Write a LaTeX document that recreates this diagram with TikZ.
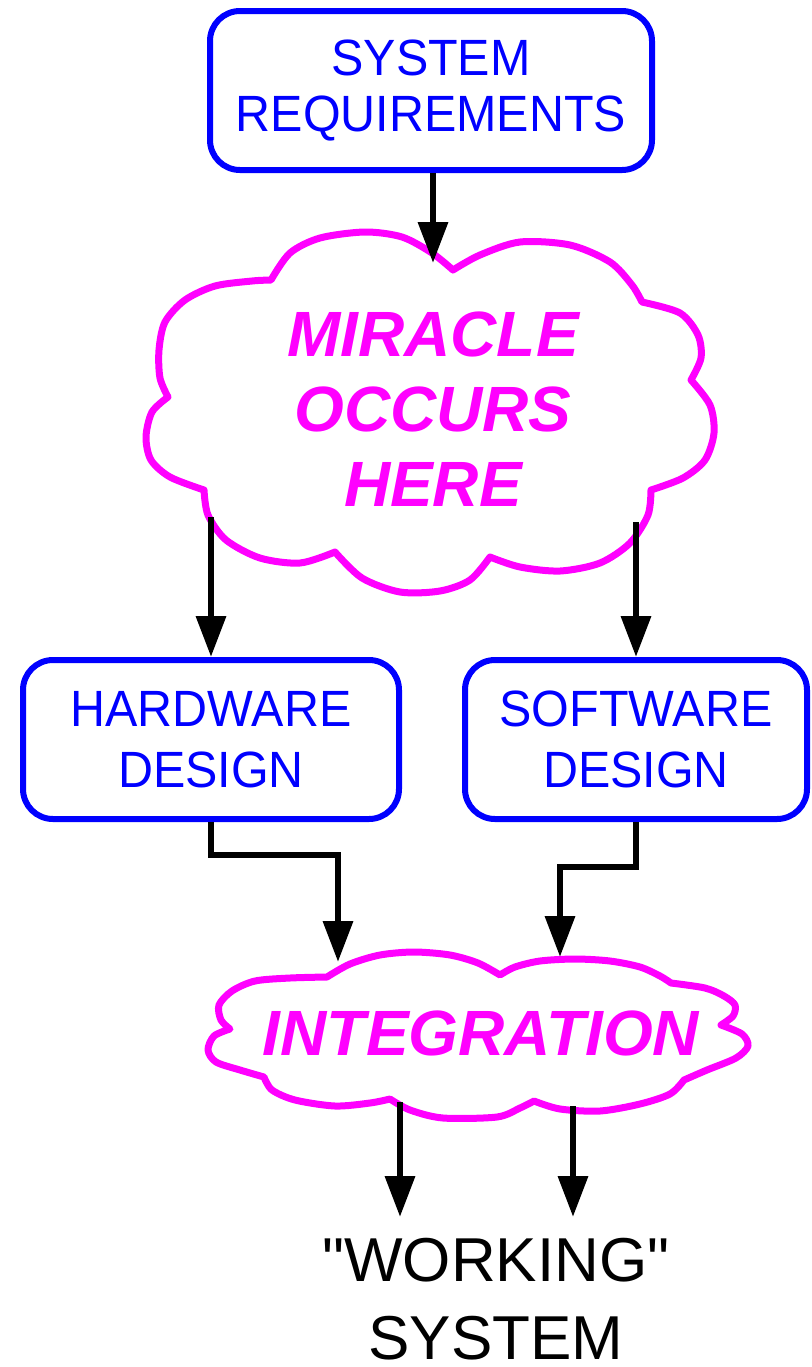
\documentclass[tikz,border=0pt]{standalone}
\usepackage{fontspec}
\setmainfont{Liberation Sans}
% same family without TeX ligature mapping, so " stays a straight quote
\newfontfamily\plainsans{Liberation Sans}
\usetikzlibrary{arrows.meta}
\definecolor{boxblue}{RGB}{0,0,255}
\definecolor{cloudmag}{RGB}{255,0,255}
\newcommand\narrowtxt[1]{\scalebox{0.95}[1]{#1}}
\tikzset{
  bluebox/.style={draw=boxblue, line width=3pt, rounded corners=15pt, text=boxblue,
    align=center, inner sep=0pt},
  cloudline/.style={draw=cloudmag, line width=3.5pt, line join=round, line cap=round},
  cloudtext/.style={text=cloudmag, font=\fontsize{32}{37.5}\bfseries\itshape\selectfont,
    align=center, inner sep=0pt},
  flow/.style={draw=black, line width=3.25pt, -{Triangle[length=20.5pt,width=14.5pt]}},
}
\begin{document}
\begin{tikzpicture}[x=0.5pt,y=-0.5pt]
\useasboundingbox (0,0) rectangle (811,1367);

% requirements box
\node[bluebox, minimum width=221pt, minimum height=79.5pt,
      font=\fontsize{25.5}{28}\selectfont] (req) at (431,90.5)
  {\narrowtxt{SYSTEM}\\\narrowtxt{REQUIREMENTS}};

% large cloud
\draw[cloudline]
  plot[smooth] coordinates {(453,270) (432,253) (402,237) (365,232) (320,238) (290,253) (271,280)}
  -- plot[smooth] coordinates {(271,280) (252,281) (215,286) (185,300) (165,322) (159,350) (160,378) (168,397)}
  -- plot[smooth] coordinates {(168,397) (152,412) (146,437) (151,460) (170,477) (204,490)}
  -- plot[smooth] coordinates {(204,490) (208,515) (226,540) (260,558) (300,563) (335,552)}
  -- plot[smooth] coordinates {(335,552) (362,578) (400,592) (440,591) (470,580) (490,557)}
  -- plot[smooth] coordinates {(490,557) (520,567) (560,571) (600,563) (630,543) (648,515) (651,490)}
  -- plot[smooth] coordinates {(651,490) (683,478) (705,460) (714,433) (710,405) (691,380)}
  -- plot[smooth] coordinates {(691,380) (701,358) (698,335) (680,313) (642,302)}
  -- plot[smooth] coordinates {(642,302) (632,285) (610,262) (570,245) (520,242) (480,255) (453,270)}
  -- cycle;
\node[cloudtext] (miracle) at (433,409) {MIRACLE\\OCCURS\\HERE};

% design boxes
\node[bluebox, minimum width=188pt, minimum height=79.5pt,
      font=\fontsize{25.5}{30.5}\selectfont] (hw) at (211,739.5)
  {\narrowtxt{HARDWARE}\\\narrowtxt{DESIGN}};
\node[bluebox, minimum width=171pt, minimum height=79.5pt,
      font=\fontsize{25.5}{30.5}\selectfont] (sw) at (636,739.5)
  {\narrowtxt{SOFTWARE}\\\narrowtxt{DESIGN}};

% small cloud
\draw[cloudline]
  plot[smooth] coordinates {(500,975) (478,963) (450,955) (414,952) (380,955) (350,964) (327,977)}
  -- plot[smooth] coordinates {(327,977) (290,978) (255,981) (232,991) (219,1005) (221,1020) (230,1029)}
  -- plot[smooth] coordinates {(230,1029) (214,1036) (208,1050) (216,1062) (240,1070) (264,1077)}
  -- plot[smooth] coordinates {(264,1077) (272,1090) (295,1100) (335,1106) (370,1103) (390,1099)}
  -- plot[smooth] coordinates {(390,1099) (410,1110) (443,1118) (497,1117) (520,1108) (534,1101)}
  -- plot[smooth] coordinates {(534,1101) (560,1109) (600,1111) (640,1104) (670,1094) (684,1080)}
  -- plot[smooth] coordinates {(684,1080) (707,1070) (736,1058) (748,1046) (742,1034) (721,1025)}
  -- plot[smooth] coordinates {(721,1025) (733,1016) (735,1005) (724,996) (705,988) (671,983)}
  -- plot[smooth] coordinates {(671,983) (660,976) (640,967) (610,961) (575,959) (540,961) (515,967) (500,975)}
  -- cycle;
\node[cloudtext] (integ) at (481,1033.5) {INTEGRATION};

% outcome
\node[font=\plainsans\fontsize{31}{39}\selectfont, align=center, inner sep=0pt] (result) at (496,1299)
  {"WORKING"\\SYSTEM};

% connector end points on the clouds
\coordinate (c1in) at (433,263);
\coordinate (c1hw) at (211,517);
\coordinate (c1sw) at (636,522);
\coordinate (c2hw) at (338,962);
\coordinate (c2sw) at (560,957);
\coordinate (c2l) at (400,1102);
\coordinate (c2r) at (573,1106);
\coordinate (outl) at (400,1217);
\coordinate (outr) at (573,1217);

% connectors
\draw[flow] (c1in |- req.south) -- (c1in);
\draw[flow] (c1hw) -- (c1hw |- hw.north);
\draw[flow] (c1sw) -- (c1sw |- sw.north);
\draw[flow] (hw.south) -- ++(0,33) -| (c2hw);
\draw[flow] (sw.south) -- ++(0,45) -| (c2sw);
\draw[flow] (c2l) -- (outl);
\draw[flow] (c2r) -- (outr);
\end{tikzpicture}
\end{document}
